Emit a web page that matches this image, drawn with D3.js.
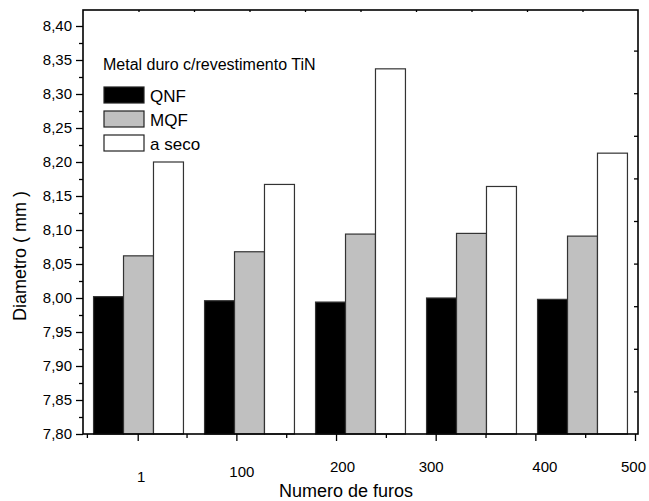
<!DOCTYPE html>
<html>
<head>
<meta charset="utf-8">
<script src="https://cdn.jsdelivr.net/npm/d3@7"></script>
<style>
  body { margin: 0; background: #fff; }
  text { font-family: "Liberation Sans", Arial, sans-serif; fill: #000; }
</style>
</head>
<body>
<svg id="chart" width="649" height="501"></svg>
<script>
// values
const groups = ['g1', 'g2', 'g3', 'g4', 'g5'];
const series = ['QNF', 'MQF', 'a seco'];
const qnf  = [8.002, 7.996, 7.994, 8.000, 7.998];
const mqf  = [8.062, 8.068, 8.094, 8.095, 8.091];
const seco = [8.200, 8.167, 8.337, 8.164, 8.213];
const xTickValues = [1, 100, 200, 300, 400, 500];
const xTickLabels = ['1', '100', '200', '300', '400', '500'];
const yTickValues = [7.80, 7.85, 7.90, 7.95, 8.00, 8.05, 8.10, 8.15, 8.20, 8.25, 8.30, 8.35, 8.40];
const legendTitle = 'Metal duro c/revestimento TiN';
const xTitle = 'Numero de furos';
const yTitle = 'Diametro ( mm )';

const colors = { 'QNF': '#000000', 'MQF': '#c0c0c0', 'a seco': '#ffffff' };
// the reference labels sit a bit off their ticks
const labelNudge = [[3, 10], [5, 5], [6, 0], [-5, 0], [9, 0], [-2, 0]];

const svg = d3.select('#chart');
const pLeft = 83, pRight = 638, pTop = 10, pBottom = 434;

const y = d3.scaleLinear().domain([7.8, 8.4]).range([pBottom, 26]);
const x0 = d3.scaleBand().domain(groups).range([pLeft, pRight]).paddingInner(0.19).paddingOuter(0.095);
const x1 = d3.scaleBand().domain(series).range([0, x0.bandwidth()]);
const xt = d3.scaleLinear().domain([-53.9, 503]).range([pLeft, pRight]);

const table = groups.map((g, i) => ({ group: g, values: [qnf[i], mqf[i], seco[i]] }));

// bars
const gb = svg.append('g');
table.forEach(function(row) {
  series.forEach(function(s, j) {
    gb.append('rect')
      .attr('x', x0(row.group) + x1(s))
      .attr('y', y(row.values[j]))
      .attr('width', x1.bandwidth())
      .attr('height', pBottom - y(row.values[j]))
      .attr('fill', colors[s])
      .attr('stroke', '#333')
      .attr('stroke-width', 1.2);
  });
});

const fmt = d => d3.format('.2f')(d).replace('.', ',');

// left axis
svg.append('g').attr('transform', 'translate(' + pLeft + ',0)')
  .call(d3.axisLeft(y).tickValues(yTickValues).tickFormat(fmt).tickSize(7).tickSizeOuter(0).tickPadding(4));
svg.append('g').attr('transform', 'translate(' + pLeft + ',0)')
  .call(d3.axisLeft(y).tickValues(yTickValues.slice(0, -1).map(v => v + 0.025)).tickFormat('').tickSize(4).tickSizeOuter(0));

// bottom axis
const xAxis = svg.append('g').attr('transform', 'translate(0,' + pBottom + ')')
  .call(d3.axisBottom(xt).tickValues(xTickValues).tickFormat((d, i) => xTickLabels[i]).tickSize(7).tickSizeOuter(0).tickPadding(20));
xAxis.selectAll('.tick text').attr('transform', (d, i) => 'translate(' + labelNudge[i][0] + ',' + labelNudge[i][1] + ')');
svg.append('g').attr('transform', 'translate(0,' + pBottom + ')')
  .call(d3.axisBottom(xt).tickValues([-50, 50, 150, 250, 350, 450]).tickFormat('').tickSize(4).tickSizeOuter(0));

// top and right axes (inward ticks)
const topScale = d3.scaleLinear().domain([0, 10]).range([pLeft, pRight]);
svg.append('g').attr('transform', 'translate(0,' + pTop + ')')
  .call(d3.axisBottom(topScale).tickValues(d3.range(1, 10)).tickFormat('').tickSize(2).tickSizeOuter(0));
const rightScale = d3.scaleLinear().domain([0, 10]).range([pBottom, 8]);
svg.append('g').attr('transform', 'translate(' + pRight + ',0)')
  .call(d3.axisLeft(rightScale).tickValues(d3.range(1, 10)).tickFormat('').tickSize(4).tickSizeOuter(0));

svg.selectAll('.domain').remove();
svg.selectAll('.tick line').attr('stroke', '#000').attr('stroke-width', 1.3);
svg.selectAll('.tick text').attr('font-size', 15).attr('fill', '#000');

// frame
svg.append('rect')
  .attr('x', pLeft).attr('y', pTop)
  .attr('width', pRight - pLeft).attr('height', pBottom - pTop)
  .attr('fill', 'none').attr('stroke', '#000').attr('stroke-width', 1.6);

// legend
svg.append('text').attr('x', 103).attr('y', 70).attr('font-size', 16).text(legendTitle);
const lg = svg.append('g');
series.forEach(function(s, i) {
  lg.append('rect')
    .attr('x', 104).attr('y', 87 + 24 * i)
    .attr('width', 40).attr('height', 16)
    .attr('fill', colors[s]).attr('stroke', '#222').attr('stroke-width', 1.2);
  lg.append('text')
    .attr('x', 150).attr('y', 102 + 24 * i)
    .attr('font-size', 17).text(s);
});

// axis titles
svg.append('text').attr('x', 346).attr('y', 497).attr('text-anchor', 'middle').attr('font-size', 18).text(xTitle);
svg.append('text').attr('transform', 'translate(26,256) rotate(-90)').attr('text-anchor', 'middle').attr('font-size', 18).text(yTitle);
</script>
</body>
</html>
